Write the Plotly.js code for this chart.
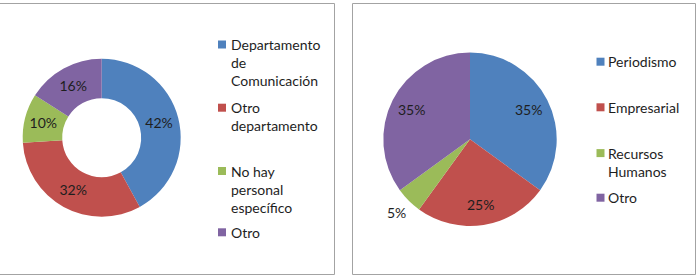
<!DOCTYPE html>
<html>
<head>
<meta charset="utf-8">
<script src="https://cdn.plot.ly/plotly-3.0.1.min.js"></script>
<style>
  html, body { margin: 0; padding: 0; background: #ffffff; }
  #chart { width: 698px; height: 277px; }
</style>
</head>
<body>
<div id="chart"></div>
<script>
// Who handles communication (donut, left)
const staffCategories = ['Departamento de Comunicación', 'Otro departamento', 'No hay personal específico', 'Otro'];
const staffValues = [42, 32, 10, 16];

// Background of the person in charge (pie, right)
const profileCategories = ['Periodismo', 'Empresarial', 'Recursos Humanos', 'Otro'];
const profileValues = [35, 25, 5, 35];

const sliceColors = ['#4F81BD', '#C0504D', '#9BBB59', '#8064A2'];

const W = 698, H = 277;
const FONT = 'Lato, "Liberation Sans", sans-serif';
const TEXT_COLOR = '#1e1e1e';
const px = v => v / W;          // pixel -> paper x
const py = v => 1 - v / H;      // pixel -> paper y

// greedy word wrap for legend text
function wrap(label, maxChars) {
  const words = label.split(' ');
  const lines = [];
  let cur = '';
  words.forEach(w => {
    if (!cur) cur = w;
    else if ((cur + ' ' + w).length <= maxChars) cur += ' ' + w;
    else { lines.push(cur); cur = w; }
  });
  if (cur) lines.push(cur);
  return lines;
}

// pie geometry (pixels)
const donutGeo = { cx: 101.7, cy: 137.7, r: 79 };
const pieGeo = { cx: 470, cy: 139.3, r: 86.7 };
const domainOf = g => ({
  x: [px(g.cx - g.r), px(g.cx + g.r)],
  y: [py(g.cy + g.r), py(g.cy - g.r)]
});

const donut = {
  type: 'pie',
  labels: staffCategories,
  values: staffValues,
  hole: 0.5,
  sort: false,
  direction: 'clockwise',
  rotation: 0,
  marker: { colors: sliceColors, line: { width: 0 } },
  texttemplate: '%{value}%',
  textposition: 'inside',
  insidetextorientation: 'horizontal',
  textfont: { family: FONT, size: 14, color: TEXT_COLOR },
  showlegend: false,
  hoverinfo: 'label+percent',
  domain: domainOf(donutGeo)
};

const pie = {
  type: 'pie',
  labels: profileCategories,
  values: profileValues,
  sort: false,
  direction: 'clockwise',
  rotation: 0,
  marker: { colors: sliceColors, line: { width: 0 } },
  textinfo: 'none',
  showlegend: false,
  hoverinfo: 'label+percent',
  domain: domainOf(pieGeo)
};

const shapes = [
  // panel frames
  { type: 'rect', xref: 'paper', yref: 'paper', x0: px(-2), x1: px(334.5), y0: py(274.5), y1: py(3.5),
    line: { color: '#a3a3a3', width: 1 }, fillcolor: 'rgba(0,0,0,0)' },
  { type: 'rect', xref: 'paper', yref: 'paper', x0: px(352.5), x1: px(695.5), y0: py(274.5), y1: py(3.5),
    line: { color: '#a3a3a3', width: 1 }, fillcolor: 'rgba(0,0,0,0)' }
];
const annotations = [];

// pie data labels, placed along each slice's mid-angle
const pieLabelPlacement = ['inside', 'inside', 'outside', 'inside'];
const pieTotal = profileValues.reduce((a, b) => a + b, 0);
let cum = 0;
profileValues.forEach((v, i) => {
  const mid = (cum + v / 2) / pieTotal * 2 * Math.PI;
  cum += v;
  const rr = pieGeo.r * (pieLabelPlacement[i] === 'inside' ? 0.76 : 1.2);
  annotations.push({
    xref: 'paper', yref: 'paper',
    x: px(pieGeo.cx + rr * Math.sin(mid)),
    y: py(pieGeo.cy - rr * Math.cos(mid)),
    xanchor: 'center', yanchor: 'middle', showarrow: false,
    text: v + '%',
    font: { family: FONT, size: 14, color: TEXT_COLOR }
  });
});

// legend block layout: swatch centre x, text left x, entry centre rows (pixels)
const legends = [
  { labels: staffCategories, swatchX: 222, textX: 229, rows: [62.7, 116.8, 189.2, 232.3] },
  { labels: profileCategories, swatchX: 600.5, textX: 606, rows: [61.7, 107.3, 162.2, 197.7] }
];
const LINE = 18.2;

legends.forEach(lg => {
  lg.labels.forEach((lab, i) => {
    const lines = wrap(lab, 12);
    const centre = lg.rows[i];
    const firstLine = centre - (lines.length - 1) * LINE / 2;
    shapes.push({
      type: 'rect', xref: 'paper', yref: 'paper',
      x0: px(lg.swatchX - 4), x1: px(lg.swatchX + 4),
      y0: py(firstLine + 4), y1: py(firstLine - 4),
      line: { width: 0 }, fillcolor: sliceColors[i]
    });
    annotations.push({
      xref: 'paper', yref: 'paper',
      x: px(lg.textX), y: py(centre),
      xanchor: 'left', yanchor: 'middle', align: 'left',
      showarrow: false,
      text: lines.join('<br>'),
      font: { family: FONT, size: 14, color: TEXT_COLOR }
    });
  });
});

const layout = {
  width: W, height: H,
  margin: { l: 0, r: 0, t: 0, b: 0 },
  paper_bgcolor: '#ffffff',
  showlegend: false,
  shapes: shapes,
  annotations: annotations
};

Plotly.newPlot('chart', [donut, pie], layout, { displayModeBar: false, staticPlot: true });
</script>
</body>
</html>
